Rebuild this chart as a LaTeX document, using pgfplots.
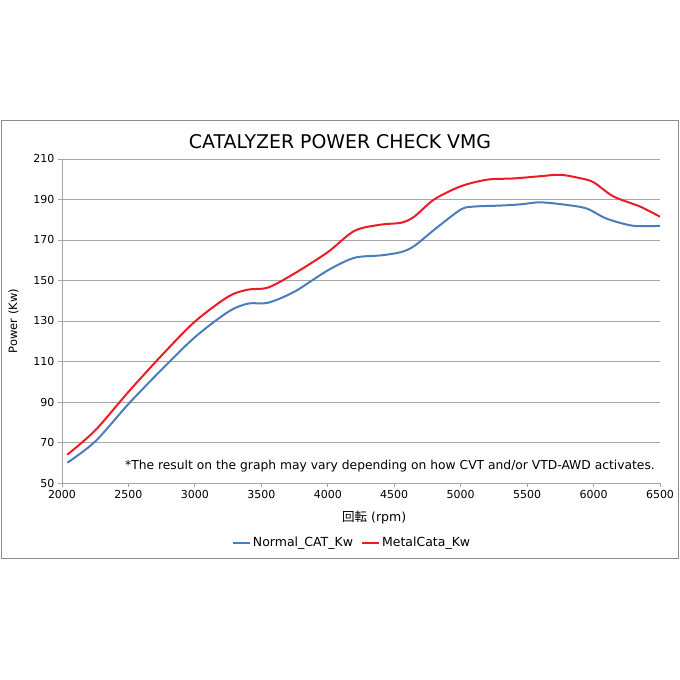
\documentclass[border=0pt]{standalone}
\usepackage{fontspec}
\setmainfont{DejaVu Sans}
\newfontfamily\cjk{Noto Sans CJK JP}
\usepackage{pgfplots}
\pgfplotsset{compat=1.18}
\definecolor{cblue}{RGB}{74,126,187}
\definecolor{cred}{RGB}{237,28,36}
\definecolor{cgrid}{RGB}{166,166,166}
\definecolor{cframe}{RGB}{140,140,140}
\begin{document}
\begin{tikzpicture}[x=1pt,y=1pt]
\path[fill=white] (0,0) rectangle (680,680);
\draw[cframe,line width=0.8pt] (1.5,122) rectangle (678.5,560);
\node[font=\fontsize{18.9}{20}\selectfont] at (340,538) {CATALYZER POWER CHECK VMG};
\begin{axis}[
  at={(62pt,197pt)}, anchor=south west,
  scale only axis, width=598pt, height=324pt,
  xmin=2000, xmax=6500, ymin=50, ymax=210,
  xtick={2000,2500,...,6500}, ytick={50,70,...,210},
  /pgf/number format/assume math mode=true,
  /pgf/number format/1000 sep={},
  tick label style={font=\fontsize{11}{12}\selectfont, text=black},
  ymajorgrids, grid style={cgrid, line width=0.8pt},
  axis x line*=bottom, axis y line*=left,
  axis line style={cgrid, line width=0.8pt},
  tick style={cgrid, line width=0.8pt},
  tick align=outside, major tick length=4pt,
  xtick pos=bottom, ytick pos=left,
  xlabel={{\cjk 回転} (rpm)},
  ylabel={Power (Kw)},
  xlabel style={at={(axis description cs:0.522,-0.108)}, anchor=center, font=\fontsize{12.5}{13}\selectfont},
  ylabel style={at={(axis description cs:-0.081,0.5)}, anchor=center, font=\fontsize{11.5}{12}\selectfont},
  legend columns=2,
  legend style={at={(axis description cs:0.485,-0.185)}, anchor=center, draw=none, fill=none,
    font=\fontsize{12.5}{13}\selectfont, /tikz/every even column/.append style={column sep=6pt}},
  legend cell align=left,
]
\addplot[cblue, line width=2pt, smooth, tension=0.5] coordinates {
(2040,60) (2250,70.5) (2500,89) (2750,106) (3000,122) (3250,134.5) (3400,138.6) (3550,139)
(3750,144.5) (4000,155) (4200,161.2) (4400,162.4) (4550,164) (4650,167) (4800,175) (5000,185)
(5100,186.5) (5300,187) (5450,187.6) (5600,188.6) (5800,187.3) (5950,185.5) (6100,180.5) (6300,177)
(6500,177)};
\addlegendentry{Normal\_CAT\_Kw}
\addplot[cred, line width=2pt, smooth, tension=0.5] coordinates {
(2040,64) (2250,76) (2500,95) (2750,113) (3000,129.7) (3250,142) (3400,145.5) (3550,146.5)
(3750,153.5) (4000,164) (4200,174.5) (4400,177.6) (4550,178.5) (4650,181.5) (4800,190) (5000,196.5)
(5200,199.8) (5400,200.4) (5600,201.5) (5750,202.2) (5900,200.5) (6000,198.5) (6150,191.5) (6350,186.5)
(6500,181.5)};
\addlegendentry{MetalCata\_Kw}
\node[font=\fontsize{12.3}{13}\selectfont] at (axis description cs:0.5485,0.0525)
  {*The result on the graph may vary depending on how CVT and/or VTD-AWD activates.};
\end{axis}
\end{tikzpicture}
\end{document}
